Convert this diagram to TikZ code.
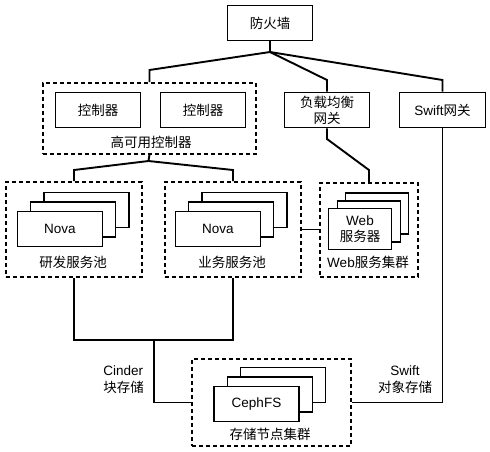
\documentclass[tikz,border=0pt]{standalone}
\usepackage{fontspec}
\setmainfont{Liberation Sans}
\newfontfamily\cjk{Noto Sans CJK SC}
\newcommand{\zh}[1]{{\cjk #1}}
\usepackage{tikz}

\begin{document}
\begin{tikzpicture}[x=1pt, y=-1pt, line width=1.9pt,
                    every node/.style={font=\fontsize{13.5}{17}\selectfont, align=center},
                    box/.style={draw, fill=white, minimum width=85pt, minimum height=35pt, inner sep=1pt},
                    webbox/.style={box, minimum width=63pt, minimum height=41pt},
                    group/.style={draw, dash pattern=on 4pt off 3pt, anchor=north west, inner sep=0pt}]
  \useasboundingbox (0,0) rectangle (490,451);

  \node[box] (wall) at (270,23) {\zh{防火墙}};

  \node[group, minimum width=213pt, minimum height=71pt] (ha) at (42,82) {};
  \node[box] (ctrl1) at (98,110) {\zh{控制器}};
  \node[box] (ctrl2) at (203,110) {\zh{控制器}};
  \node (halabel) at (151,142) {\zh{高可用控制器}};

  \node[box] (lb) at (327,110) {\zh{负载均衡}\\[-1pt]\zh{网关}};
  \node[box, minimum width=86pt] (swgw) at (442.5,110) {Swift\zh{网关}};

  \node[group, minimum width=136pt, minimum height=95pt] (dev) at (5,181) {};
  \node[box] (nova1c) at (86.5,210) {};
  \node[box] (nova1b) at (73,219.5) {};
  \node[box] (nova1a) at (60,229) {Nova};
  \node (devlabel) at (73,262) {\zh{研发服务池}};

  \node[group, minimum width=136pt, minimum height=95pt] (biz) at (164,181) {};
  \node[box] (nova2c) at (244.5,210) {};
  \node[box] (nova2b) at (231,219.5) {};
  \node[box] (nova2a) at (218,229) {Nova};
  \node (bizlabel) at (232,262) {\zh{业务服务池}};

  \node[group, minimum width=98pt, minimum height=94pt] (web) at (319,182) {};
  \node[webbox] (web3) at (377,213.5) {};
  \node[webbox] (web2) at (369,221.5) {};
  \node[webbox] (web1) at (360,229) {Web\\[-1pt]\zh{服务器}};
  \node (weblabel) at (368,262) {Web\zh{服务集群}};

  \node[group, minimum width=159pt, minimum height=87pt] (store) at (191,358) {};
  \node[box] (ceph3) at (283,385) {};
  \node[box] (ceph2) at (270,394.5) {};
  \node[box] (ceph1) at (256.5,404) {CephFS};
  \node (storelabel) at (270,434) {\zh{存储节点集群}};

  \node[anchor=west, align=left] (cinder) at (99,380) {Cinder\\\zh{块存储}};
  \node (swift) at (405,380) {Swift\\\zh{对象存储}};

  \coordinate (j1) at (270,52);
  \coordinate (j2) at (148.5,161);
  \coordinate (j3) at (154,340);

  \draw (wall.south) -- (j1);
  \draw (j1) -- (ha.north |- 0,70) -- (ha.north);
  \draw (j1) -- (lb.north |- 0,80) -- (lb.north);
  \draw (j1) -- (swgw.north |- 0,80) -- (swgw.north);
  \draw (ha.south) -- (j2);
  \draw (j2) -- (dev.north |- 0,170) -- (dev.north);
  \draw (j2) -- (biz.north |- 0,170) -- (biz.north);
  \draw (lb.south) -- (lb.south |- 0,139) -- (web.north |- 0,170) -- (web.north);
  \draw (biz.east) -- (biz.east -| web.west);
  \draw (dev.south) |- (j3) -| (biz.south);
  \draw (j3) |- (store.west);
  \draw (swgw.south) |- (store.east);
\end{tikzpicture}
\end{document}
